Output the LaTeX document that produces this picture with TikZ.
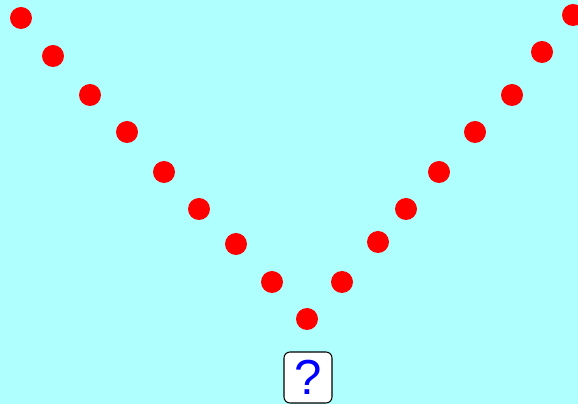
\documentclass[tikz,border=0pt]{standalone}
\usepackage{fontspec}
\setmainfont{Liberation Sans}
\usetikzlibrary{positioning}
\definecolor{skybg}{RGB}{175,255,255}
\definecolor{qblue}{RGB}{0,0,255}

\begin{document}
\begin{tikzpicture}[
    x=0.02cm, y=-0.02cm,
    dot/.style={circle, fill=red, inner sep=0pt, minimum size=0.44cm},
    qbox/.style={draw=black, fill=white, rounded corners=0.12cm, line width=0.6pt,
        minimum width=0.96cm, minimum height=1.02cm, inner sep=0pt},
    qmark/.style={text=qblue, font=\fontsize{28}{28}\selectfont}
]
    \fill[skybg] (0,0) rectangle (578,404);
    \useasboundingbox (0,0) rectangle (578,404);
    % left arm of the V
    \foreach \x/\y [count=\i] in {21/18, 53/56, 90/95, 127/132, 164/172, 199/209, 236/244, 272/282, 307/319}
        \node[dot] (l\i) at (\x,\y) {};
    % right arm of the V
    \foreach \x/\y [count=\i] in {342/282, 378/242, 406/209, 439/172, 475/132, 512/95, 542/52, 573/15}
        \node[dot] (r\i) at (\x,\y) {};
    \node[qbox] (box) at (308,377.5) {};
    \node[qmark] (ask) at (box.center) {?};
\end{tikzpicture}
\end{document}
